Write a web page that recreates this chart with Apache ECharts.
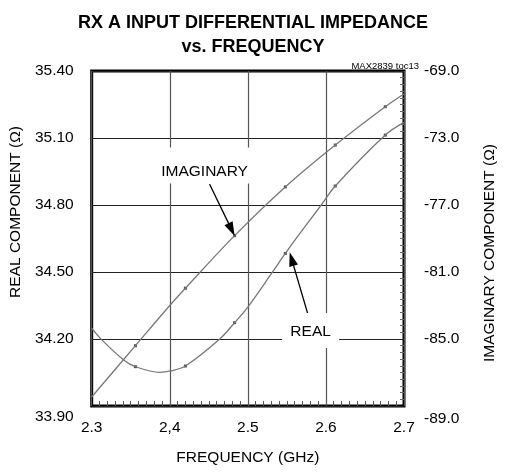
<!DOCTYPE html>
<html>
<head>
<meta charset="utf-8">
<script src="https://cdn.jsdelivr.net/npm/echarts@6/dist/echarts.min.js"></script>
<style>
  html, body { margin: 0; padding: 0; background: #fff; }
  #chart { width: 506px; height: 473px; }
</style>
</head>
<body>
<div id="chart"></div>
<script>
// tick labels
var xTickLabels = ['2.3', '2,4', '2.5', '2.6', '2.7']
var leftTickLabels = ['33.90', '34.20', '34.50', '34.80', '35.10', '35.40']
var rightTickLabels = ['-89.0', '-85.0', '-81.0', '-77.0', '-73.0', '-69.0']

// real component (left axis, ohm)
var realFreq = [2.300, 2.313, 2.341, 2.356, 2.387, 2.401, 2.420, 2.464, 2.483, 2.500, 2.531, 2.548, 2.565, 2.594, 2.612, 2.676, 2.700]
var realOhm = [34.249, 34.196, 34.106, 34.076, 34.051, 34.057, 34.079, 34.200, 34.273, 34.343, 34.497, 34.583, 34.665, 34.800, 34.885, 35.113, 35.170]

// imaginary component (right axis, ohm)
var imagFreq = [2.300, 2.356, 2.400, 2.420, 2.483, 2.548, 2.612, 2.676, 2.700]
var imagOhm = [-88.46, -85.40, -83.00, -81.97, -78.83, -75.92, -73.42, -71.13, -70.37]

// measured points drawn as small marks on the curves
var markFreq = [2.356, 2.420, 2.483, 2.548, 2.612, 2.676]
var realMarks = [34.076, 34.079, 34.273, 34.583, 34.885, 35.113]
var imagMarks = [-85.40, -81.97, -78.83, -75.92, -73.42, -71.13]

var FONT = "'Liberation Sans', Arial, sans-serif"
var FS = 15.5

function pairs(xs, ys) {
  return xs.map(function(x, i) { return [x, ys[i]] })
}

var chart = echarts.init(document.getElementById('chart'), null, { renderer: 'canvas' })

var option = {
  backgroundColor: '#fff',
  animation: false,
  title: {
    text: 'RX A INPUT DIFFERENTIAL IMPEDANCE\nvs. FREQUENCY',
    left: 'center',
    top: 6,
    textStyle: {
      fontFamily: FONT,
      fontSize: 18,
      fontWeight: 'bold',
      lineHeight: 24,
      color: '#000'
    }
  },
  graphic: [{
    type: 'text',
    right: 87,
    top: 61,
    style: { text: 'MAX2839 toc13', fontFamily: FONT, fontSize: 9.5, fill: '#000' }
  }],
  grid: {
    left: 86,
    right: 84,
    top: 71,
    bottom: 67,
    show: true,
    borderColor: '#000',
    borderWidth: 3
  },
  xAxis: {
    type: 'value',
    min: 2.3,
    max: 2.7,
    interval: 0.1,
    name: 'FREQUENCY (GHz)',
    nameLocation: 'middle',
    nameGap: 44,
    nameTextStyle: { fontFamily: FONT, fontSize: FS, color: '#000' },
    axisLine: { show: false },
    axisTick: { show: false, inside: true },
    minorTick: { show: true, splitNumber: 10, length: 5, lineStyle: { color: '#555', width: 1 } },
    splitLine: { show: true, lineStyle: { color: '#555', width: 1.2 } },
    axisLabel: {
      margin: 14,
      fontFamily: FONT,
      fontSize: FS,
      color: '#000',
      formatter: function(v) { return xTickLabels[Math.round((v - 2.3) / 0.1)] }
    }
  },
  yAxis: [
    {
      type: 'value',
      position: 'left',
      min: 33.9,
      max: 35.4,
      interval: 0.3,
      name: 'REAL COMPONENT (Ω)',
      nameLocation: 'middle',
      nameRotate: 90,
      nameGap: 60,
      nameTextStyle: { fontFamily: FONT, fontSize: FS, color: '#000', padding: [0, 0, 0, 53] },
      axisLine: { show: false },
      axisTick: { show: false },
      splitLine: { show: true, lineStyle: { color: '#222', width: 1 } },
      axisLabel: {
        margin: 18,
        fontFamily: FONT,
        fontSize: FS,
        color: '#000',
        formatter: function(v) {
          var i = Math.round((v - 33.9) / 0.3)
          return i === 0 ? '{low|' + leftTickLabels[i] + '}' : leftTickLabels[i]
        },
        rich: { low: { padding: [22, 0, 0, 0] } }
      }
    },
    {
      type: 'value',
      position: 'right',
      min: -89,
      max: -69,
      interval: 4,
      name: 'IMAGINARY COMPONENT (Ω)',
      nameLocation: 'middle',
      nameRotate: 90,
      nameGap: 78,
      nameTextStyle: { fontFamily: FONT, fontSize: FS, color: '#000', padding: [0, 29, 0, 0] },
      axisLine: { show: false },
      axisTick: { show: false, inside: true },
      minorTick: { show: true, splitNumber: 10, length: 4, lineStyle: { color: '#666', width: 1 } },
      splitLine: { show: false },
      axisLabel: {
        margin: 20,
        fontFamily: FONT,
        fontSize: FS,
        color: '#000',
        formatter: function(v) {
          var i = Math.round((v + 89) / 4)
          return i === 0 ? '{low|' + rightTickLabels[i] + '}' : rightTickLabels[i]
        },
        rich: { low: { padding: [26, 0, 0, 0] } }
      }
    }
  ],
  series: [
    {
      name: 'REAL',
      type: 'line',
      yAxisIndex: 0,
      data: pairs(realFreq, realOhm),
      smooth: 0.35,
      showSymbol: false,
      lineStyle: { color: '#777', width: 1.3 },
      markLine: {
        silent: true,
        symbol: ['none', 'triangle'],
        symbolSize: [9, 14],
        label: { show: false },
        lineStyle: { color: '#000', width: 1.3, type: 'solid' },
        data: [[{ coord: [2.5778, 34.300] }, { coord: [2.5561, 34.558] }]]
      },
      markPoint: {
        silent: true,
        symbol: 'rect',
        symbolSize: [57, 35],
        itemStyle: { color: '#fff' },
        label: {
          show: true,
          position: 'inside',
          offset: [0, 1],
          formatter: 'REAL',
          fontFamily: FONT,
          fontSize: FS,
          color: '#000'
        },
        data: [{ coord: [2.5804, 34.238] }]
      }
    },
    {
      name: 'IMAGINARY',
      type: 'line',
      yAxisIndex: 1,
      data: pairs(imagFreq, imagOhm),
      smooth: 0.35,
      showSymbol: false,
      lineStyle: { color: '#777', width: 1.3 },
      markLine: {
        silent: true,
        symbol: ['none', 'triangle'],
        symbolSize: [9, 14],
        label: { show: false },
        lineStyle: { color: '#000', width: 1.3, type: 'solid' },
        data: [[{ coord: [2.4509, -75.75] }, { coord: [2.4792, -78.47] }]]
      },
      markPoint: {
        silent: true,
        symbol: 'rect',
        symbolSize: [98, 36],
        symbolOffset: [0, -6],
        itemStyle: { color: '#fff' },
        label: {
          show: true,
          position: 'inside',
          offset: [0, 6],
          formatter: 'IMAGINARY',
          fontFamily: FONT,
          fontSize: FS,
          color: '#000'
        },
        data: [{ coord: [2.4446, -75.0] }]
      }
    },
    {
      type: 'scatter',
      yAxisIndex: 0,
      data: pairs(markFreq, realMarks),
      symbol: 'rect',
      symbolSize: [3, 3],
      itemStyle: { color: '#222' },
      silent: true
    },
    {
      type: 'scatter',
      yAxisIndex: 1,
      data: pairs(markFreq, imagMarks),
      symbol: 'rect',
      symbolSize: [3, 3],
      itemStyle: { color: '#222' },
      silent: true
    }
  ]
}

chart.setOption(option)
</script>
</body>
</html>
